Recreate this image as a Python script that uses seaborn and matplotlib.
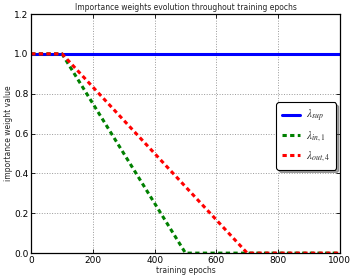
import matplotlib
matplotlib.use("Agg")
import matplotlib.pyplot as plt
import seaborn as sns
import pandas as pd

sup_epochs = [0, 1000]
sup_values = [1.0, 1.0]
in1_epochs = [0, 100, 500, 1000]
in1_values = [1.0, 1.0, 0.0, 0.0]
out4_epochs = [0, 100, 700, 1000]
out4_values = [1.0, 1.0, 0.0, 0.0]

labels = [r"$\lambda_{sup}$", r"$\lambda_{in,1}$", r"$\lambda_{out,4}$"]
colors = ["#0000ff", "#008000", "#ff0000"]

sns.set_style("ticks")
plt.rcParams["font.family"] = ["DejaVu Sans"]
plt.rcParams["mathtext.fontset"] = "stix"
plt.rcParams["xtick.direction"] = "in"
plt.rcParams["ytick.direction"] = "in"
plt.rcParams["xtick.top"] = True
plt.rcParams["ytick.right"] = True

fig = plt.figure(figsize=(3.5, 2.8), dpi=100)
ax = fig.add_axes([0.089, 0.096, 0.882, 0.854])

sns.lineplot(x=sup_epochs, y=sup_values, ax=ax, color=colors[0], lw=2.2, label=labels[0])
sns.lineplot(x=in1_epochs, y=in1_values, ax=ax, color=colors[1], lw=2.2, label=labels[1])
sns.lineplot(x=out4_epochs, y=out4_values, ax=ax, color=colors[2], lw=2.2, label=labels[2])
ax.lines[1].set_linestyle((0, (1.4, 1.1)))
ax.lines[2].set_linestyle((0, (1.4, 1.1)))

ax.set_xlim(0, 1000)
ax.set_ylim(0, 1.2)
ax.set_xticks([0, 200, 400, 600, 800, 1000])
ax.set_yticks([0.0, 0.2, 0.4, 0.6, 0.8, 1.0, 1.2])
ax.set_yticklabels(["0.0", "0.2", "0.4", "0.6", "0.8", "1.0", "1.2"])
ax.tick_params(labelsize=6.5, length=3, width=0.6, colors="black", pad=2)
ax.grid(True, linestyle=":", color="#999999", linewidth=0.7)
for s in ax.spines.values():
    s.set_color("black")
    s.set_linewidth(0.9)
    s.set_visible(True)

ax.set_title("Importance weights evolution throughout training epochs", fontsize=5.5, pad=3)
ax.set_xlabel("training epochs", fontsize=5.5, labelpad=1)
ax.set_ylabel("importance weight value", fontsize=5.5, labelpad=1)

leg = ax.legend(loc="center right", bbox_to_anchor=(1.005, 0.49), fontsize=8, shadow=True,
                fancybox=True, framealpha=1, edgecolor="black", handlelength=1.6,
                borderpad=0.5, labelspacing=0.5, handletextpad=0.6)
leg.get_frame().set_linewidth(0.8)

fig.savefig("out.png", dpi=100)
